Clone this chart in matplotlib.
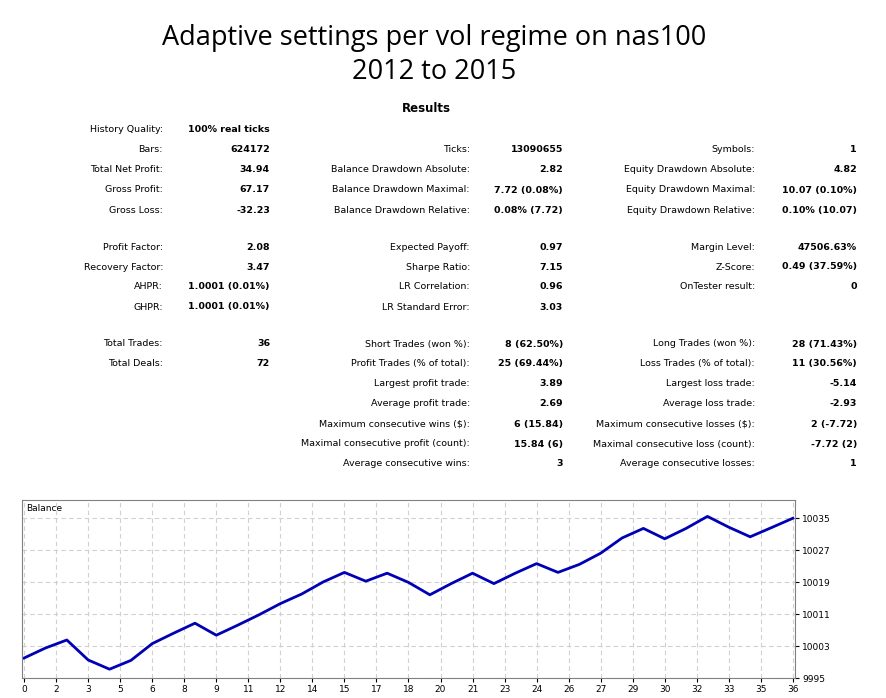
import matplotlib
matplotlib.use("Agg")
import matplotlib.pyplot as plt

title = "Adaptive settings per vol regime on nas100\n2012 to 2015"
trades = list(range(37))
balance = [10000, 10002.5, 10004.5, 9999.5, 9997.2, 9999.4, 10003.6, 10006.2, 10008.7, 10005.7,
           10008.2, 10010.8, 10013.6, 10016, 10019, 10021.4, 10019.2, 10021.2, 10018.9, 10015.8,
           10018.6, 10021.2, 10018.6, 10021.2, 10023.6, 10021.4, 10023.4, 10026.2, 10030, 10032.4,
           10029.8, 10032.4, 10035.4, 10032.7, 10030.3, 10032.6, 10034.94]
xtick_labels = ["0","2","3","5","6","8","9","11","12","14","15","17","18","20","21","23","24",
                "26","27","29","30","32","33","35","36"]
yticks = [9995, 10003, 10011, 10019, 10027, 10035]

# (row y pixel, label, value) per column
col1 = [(130, "History Quality:", "100% real ticks"), (150, "Bars:", "624172"),
        (170, "Total Net Profit:", "34.94"), (190, "Gross Profit:", "67.17"),
        (210, "Gross Loss:", "-32.23"), (247, "Profit Factor:", "2.08"),
        (267, "Recovery Factor:", "3.47"), (287, "AHPR:", "1.0001 (0.01%)"),
        (307, "GHPR:", "1.0001 (0.01%)"), (344, "Total Trades:", "36"),
        (364, "Total Deals:", "72")]
col2 = [(150, "Ticks:", "13090655"), (170, "Balance Drawdown Absolute:", "2.82"),
        (190, "Balance Drawdown Maximal:", "7.72 (0.08%)"),
        (210, "Balance Drawdown Relative:", "0.08% (7.72)"),
        (247, "Expected Payoff:", "0.97"), (267, "Sharpe Ratio:", "7.15"),
        (287, "LR Correlation:", "0.96"), (307, "LR Standard Error:", "3.03"),
        (344, "Short Trades (won %):", "8 (62.50%)"),
        (364, "Profit Trades (% of total):", "25 (69.44%)"),
        (384, "Largest profit trade:", "3.89"), (404, "Average profit trade:", "2.69"),
        (424, "Maximum consecutive wins ($):", "6 (15.84)"),
        (444, "Maximal consecutive profit (count):", "15.84 (6)"),
        (464, "Average consecutive wins:", "3")]
col3 = [(150, "Symbols:", "1"), (170, "Equity Drawdown Absolute:", "4.82"),
        (190, "Equity Drawdown Maximal:", "10.07 (0.10%)"),
        (210, "Equity Drawdown Relative:", "0.10% (10.07)"),
        (247, "Margin Level:", "47506.63%"), (267, "Z-Score:", "0.49 (37.59%)"),
        (287, "OnTester result:", "0"),
        (344, "Long Trades (won %):", "28 (71.43%)"),
        (364, "Loss Trades (% of total):", "11 (30.56%)"),
        (384, "Largest loss trade:", "-5.14"), (404, "Average loss trade:", "-2.93"),
        (424, "Maximum consecutive losses ($):", "2 (-7.72)"),
        (444, "Maximal consecutive loss (count):", "-7.72 (2)"),
        (464, "Average consecutive losses:", "1")]

W, H = 886, 698
fig = plt.figure(figsize=(W/100, H/100), dpi=100)
fig.text(0.49, 1 - 55/H, title, ha="center", va="center", fontsize=19.5, linespacing=1.3,
         family="Open Sans", fontweight="medium")
fig.text(426/W, 1 - 109/H, "Results", ha="center", va="center", fontsize=8.5, fontweight="bold")
for col, lx, vx in [(col1, 163, 270), (col2, 470, 563), (col3, 755, 857)]:
    for y, lab, val in col:
        fig.text(lx/W, 1 - y/H, lab, ha="right", va="center", fontsize=6.8)
        fig.text(vx/W, 1 - y/H, val, ha="right", va="center", fontsize=6.8, fontweight="bold")

ax = fig.add_axes([22/W, 1 - 678/H, (795-22)/W, (678-500)/H])
ax.plot(trades, balance, color="#0000b4", lw=2)
ax.set_xlim(-0.1, 36.1)
ax.set_ylim(9995, 10039.5)
ax.set_xticks([i * 36 / 24 for i in range(25)])
ax.set_xticklabels(xtick_labels, fontsize=6.5)
ax.yaxis.tick_right()
ax.set_yticks(yticks)
ax.set_yticklabels([str(v) for v in yticks], fontsize=6.5)
ax.tick_params(length=3, pad=2)
ax.grid(True, color="#d0d0d0", ls=(0, (4, 3)), lw=0.8)
ax.text(0.005, 0.98, "Balance", transform=ax.transAxes, ha="left", va="top", fontsize=6.5)
for s in ax.spines.values():
    s.set_color("#808080")
fig.savefig("out.png", dpi=100)
